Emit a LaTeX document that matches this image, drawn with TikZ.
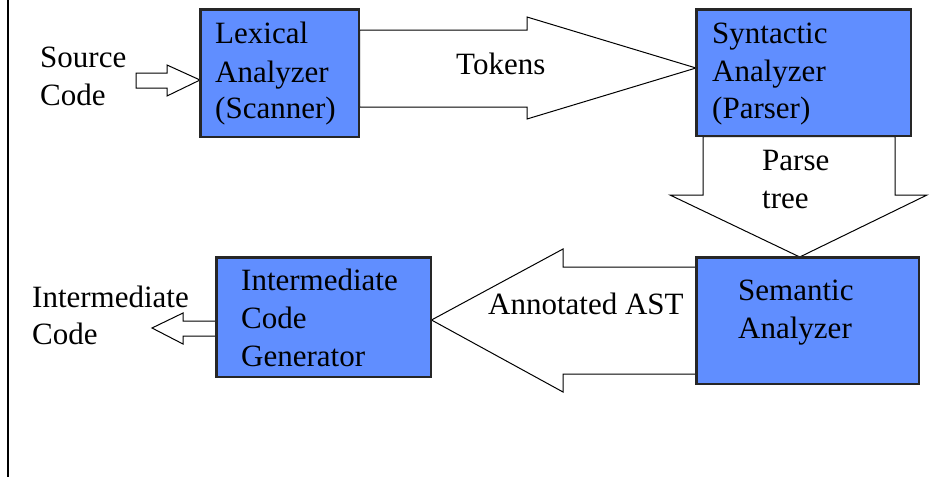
\documentclass[tikz,border=0pt]{standalone}
\usepackage{fontspec}
\setmainfont{Liberation Serif}
\newfontfamily\tnrfont{Liberation Serif}
\usetikzlibrary{calc}
\definecolor{boxblue}{RGB}{96,142,255}
\tikzset{
  box/.style={draw=black!85, line width=1.5pt, fill=boxblue, anchor=north west, inner sep=0pt},
  blk/.style={draw=black, line width=1pt, fill=white, line join=miter},
  txt/.style={anchor=base west, inner sep=0pt, font=\tnrfont\fontsize{31}{38}\selectfont}
}
\begin{document}
\begin{tikzpicture}[x=1pt,y=-1pt]
\useasboundingbox (0,0) rectangle (952,477);
\fill[white] (0,0) rectangle (952,477);
\draw[line width=2.2pt] (8,0) -- (8,477);

% boxes
\node[box, minimum width=158pt, minimum height=127pt] (lex) at (200,9) {};
\node[box, minimum width=214pt, minimum height=126pt] (syn) at (696,9) {};
\node[box, minimum width=222pt, minimum height=126pt] (sem) at (696,257) {};
\node[box, minimum width=214pt, minimum height=119pt] (icg) at (216,257) {};

% block arrows
\draw[blk] (136,73) -- (167,73) -- (167,65) -- (lex.west|-0,80) -- (167,96) -- (167,88) -- (136,88) -- cycle;
\draw[blk] (lex.east|-0,30) -- (527,30) -- (527,17) -- (syn.west|-0,68) -- (527,119) -- (527,107) -- (lex.east|-0,107) -- cycle;
\draw[blk] (703,0|-syn.south) -- (703,195) -- (670,195) -- ($(sem.north)+(-8,0)$) -- (927,195) -- (895,195) -- (895,0|-syn.south) -- cycle;
\draw[blk] (sem.west|-0,267) -- (563,267) -- (563,249) -- (icg.east|-0,320) -- (563,392) -- (563,374) -- (sem.west|-0,374) -- cycle;
\draw[blk] (icg.west|-0,321) -- (183,321) -- (183,313) -- (152,328) -- (183,344) -- (183,336) -- (icg.west|-0,336) -- cycle;

% redraw box borders on top of arrow joints
\draw[draw=black!85, line width=1.5pt] (lex.north west) rectangle (lex.south east);
\draw[draw=black!85, line width=1.5pt] (syn.north west) rectangle (syn.south east);
\draw[draw=black!85, line width=1.5pt] (sem.north west) rectangle (sem.south east);
\draw[draw=black!85, line width=1.5pt] (icg.north west) rectangle (icg.south east);

% texts
\node[txt] (src1) at (40,67) {Source};
\node[txt] (src2) at (40,105) {Code};
\node[txt] (lex1) at (215,43) {Lexical};
\node[txt] (lex2) at (215,82) {Analyzer};
\node[txt] (lex3) at (215,118) {(Scanner)};
\node[txt] (tok) at (456,74) {Tokens};
\node[txt] (syn1) at (712,43) {Syntactic};
\node[txt] (syn2) at (712,81) {Analyzer};
\node[txt] (syn3) at (712,118) {(Parser)};
\node[txt] (pt1) at (762,170) {Parse};
\node[txt] (pt2) at (762,208) {tree};
\node[txt] (sem1) at (738,300) {Semantic};
\node[txt] (sem2) at (738,338) {Analyzer};
\node[txt] (ast) at (488,314) {Annotated AST};
\node[txt] (icg1) at (241,290) {Intermediate};
\node[txt] (icg2) at (241,328) {Code};
\node[txt] (icg3) at (241,366) {Generator};
\node[txt] (out1) at (32,307) {Intermediate};
\node[txt] (out2) at (32,344) {Code};
\end{tikzpicture}
\end{document}
